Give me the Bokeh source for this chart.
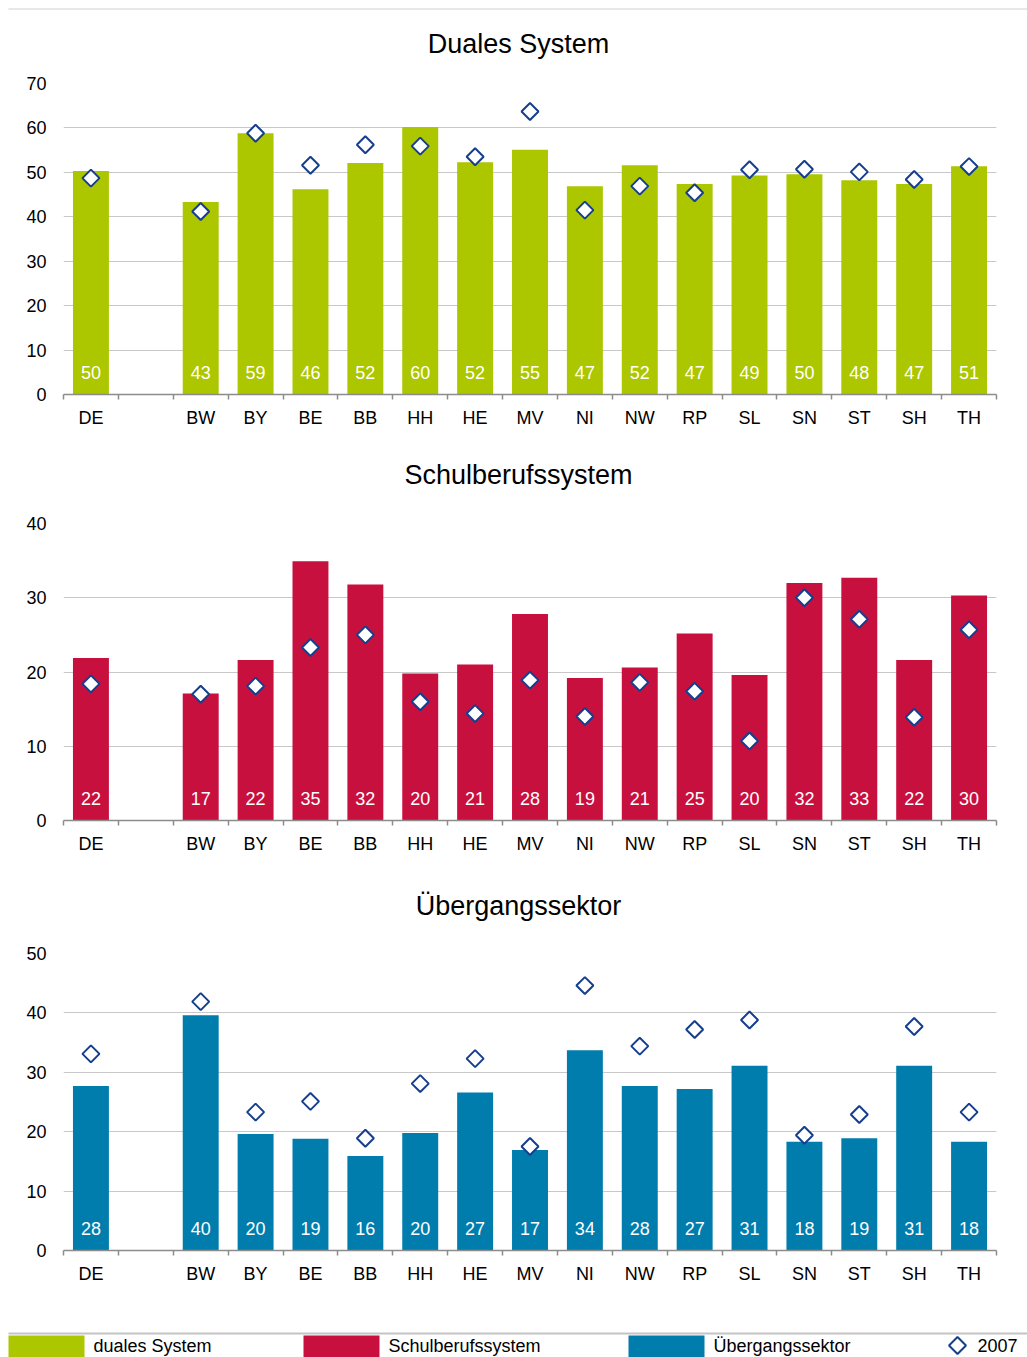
import numpy as np
from bokeh.plotting import figure
from bokeh.models import Range1d, FixedTicker, ColumnDataSource
from bokeh.layouts import column
from bokeh.embed import file_html
from bokeh.resources import INLINE
from bokeh.core.properties import value

# ---------------- data ----------------
slots = ["DE", "", "BW", "BY", "BE", "BB", "HH", "HE", "MV", "NI", "NW",
         "RP", "SL", "SN", "ST", "SH", "TH"]
states = [s for s in slots if s]

dual_now = [50.3, 43.3, 58.8, 46.2, 52.1, 60.2, 52.3, 55.1, 46.9, 51.6, 47.4, 49.3, 49.6, 48.2, 47.4, 51.4]
dual_2007 = [48.7, 41.2, 58.8, 51.6, 56.2, 55.9, 53.5, 63.7, 41.5, 46.9, 45.4, 50.6, 50.7, 50.1, 48.4, 51.3]
school_now = [21.9, 17.1, 21.6, 34.9, 31.8, 19.8, 21.0, 27.8, 19.2, 20.6, 25.2, 19.6, 32.0, 32.7, 21.6, 30.3]
school_2007 = [18.4, 17.0, 18.1, 23.3, 25.0, 16.0, 14.4, 18.9, 14.0, 18.6, 17.4, 10.7, 30.0, 27.1, 13.9, 25.7]
trans_now = [27.7, 39.6, 19.6, 18.8, 15.9, 19.8, 26.6, 16.9, 33.7, 27.7, 27.2, 31.1, 18.3, 18.9, 31.1, 18.3]
trans_2007 = [33.1, 41.9, 23.3, 25.1, 18.9, 28.1, 32.3, 17.5, 44.6, 34.4, 37.2, 38.8, 19.4, 22.9, 37.7, 23.3]

titles = ["Duales System", "Schulberufssystem", "Übergangssektor"]
legend_labels = ["duales System", "Schulberufssystem", "Übergangssektor", "2007"]
y_max = [70, 40, 50]

GREEN = "#acc600"
RED = "#c8103f"
BLUE = "#007dad"
DIAMOND = "#153e8e"
FONT = "Liberation Sans"
W = 1027
LEFT, RIGHT = 63, 31


def no_align(p):
    try:
        p.frame_align = False
    except Exception:
        pass


def strip(height):
    s = figure(width=W, height=height, output_backend="svg", toolbar_location=None,
               x_range=Range1d(0, W), y_range=Range1d(0, height),
               x_axis_location=None, y_axis_location=None, min_border=0)
    no_align(s)
    s.grid.visible = False
    s.outline_line_color = None
    return s


def header(title, height, title_y, rule_y=None):
    h = strip(height)
    if rule_y is not None:
        h.segment(x0=8, y0=rule_y, x1=W, y1=rule_y, line_color="#d0d0d0", line_width=1)
    h.text(x=[518], y=[title_y], text=[title], text_font=value(FONT),
           text_font_size="27px", text_color="#000000",
           text_align="center", text_baseline="middle")
    return h


def panel(now, old, color, ymax, height, top, bottom):
    p = figure(width=W, height=height, output_backend="svg", toolbar_location=None,
               x_range=Range1d(-0.5, len(slots) - 0.5), y_range=Range1d(0, ymax),
               min_border_left=LEFT, min_border_right=RIGHT,
               min_border_top=top, min_border_bottom=bottom)
    p.outline_line_color = None

    src = ColumnDataSource(dict(
        x=[slots.index(s) for s in states],
        now=now, old=old,
        label=[f"{v:.0f}" for v in now],
    ))
    p.vbar(x="x", top="now", bottom=0, width=0.655, color=color, line_color=None, source=src)
    p.text(x="x", y=0, text="label", source=src, text_color="white",
           text_font=value(FONT), text_font_size="18px", text_align="center",
           text_baseline="middle", y_offset=-22)
    p.scatter(x="x", y="old", source=src, marker="square", angle=np.pi / 4, size=12,
              fill_color="white", line_color=DIAMOND, line_width=2)

    xa = p.xaxis[0]
    xa.ticker = FixedTicker(ticks=list(range(len(slots))),
                            minor_ticks=[i - 0.5 for i in range(len(slots) + 1)])
    xa.major_label_overrides = {i: s for i, s in enumerate(slots)}
    xa.axis_line_color = "#8c8c8c"
    xa.axis_line_width = 1.5
    xa.major_tick_line_color = None
    xa.major_tick_out = 0
    xa.major_tick_in = 0
    xa.minor_tick_line_color = "#8c8c8c"
    xa.minor_tick_line_width = 1.5
    xa.minor_tick_out = 5
    xa.minor_tick_in = 0
    xa.major_label_text_font = FONT
    xa.major_label_text_font_size = "18px"
    xa.major_label_text_color = "#000000"
    xa.major_label_standoff = 8

    ya = p.yaxis[0]
    ya.ticker = FixedTicker(ticks=list(range(0, ymax + 1, 10)))
    ya.axis_line_color = None
    ya.major_tick_line_color = None
    ya.minor_tick_line_color = None
    ya.major_tick_out = 0
    ya.major_tick_in = 0
    ya.major_label_text_font = FONT
    ya.major_label_text_font_size = "18px"
    ya.major_label_text_color = "#000000"
    ya.major_label_standoff = 17

    p.xgrid.visible = False
    p.ygrid.grid_line_color = "#c8c8c8"
    p.ygrid.grid_line_width = 1.2
    return p


h1 = header(titles[0], 70, 26.5, rule_y=61.5)
p1 = panel(dual_now, dual_2007, GREEN, y_max[0], 370, 13, 46)
h2 = header(titles[1], 60, 25.5)
p2 = panel(school_now, school_2007, RED, y_max[1], 370, 23, 50)
h3 = header(titles[2], 60, 25)
p3 = panel(trans_now, trans_2007, BLUE, y_max[2], 370, 23, 50)

# ---------------- legend strip ----------------
LH = 57
lg = strip(LH)
lg.segment(x0=8, y0=24, x1=W, y1=24, line_color="#c4c4c4", line_width=2)
lg.quad(left=[8, 303, 628], right=[84, 379, 704], bottom=0, top=22,
        color=[GREEN, RED, BLUE], line_color=None)
lg.text(x=[93, 388, 713, 977], y=[12, 12, 12, 12], text=legend_labels,
        text_font=value(FONT), text_font_size="18px", text_color="#000000",
        text_baseline="middle", text_align="left")
lg.scatter(x=[957], y=[12], marker="square", angle=np.pi / 4, size=12,
           fill_color="white", line_color=DIAMOND, line_width=2)

layout = column(h1, p1, h2, p2, h3, p3, lg, spacing=0)

with open("out.html", "w") as f:
    f.write(file_html(layout, INLINE))
